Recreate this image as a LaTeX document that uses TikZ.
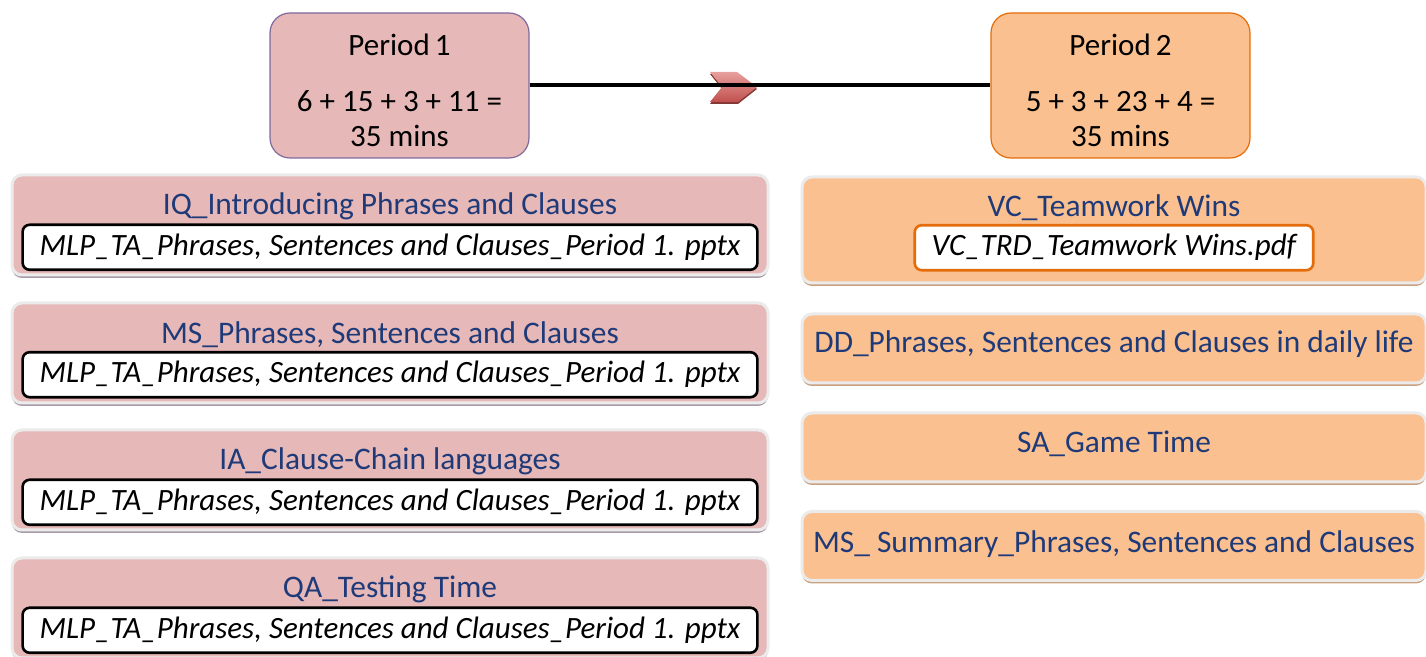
\documentclass[tikz,border=0pt]{standalone}
\usepackage{fontspec}
\setmainfont{Carlito}
\usetikzlibrary{positioning,shadows}

\definecolor{PinkFill}{HTML}{E6B8B7}
\definecolor{PeachFill}{HTML}{FAC090}
\definecolor{PurpleLine}{HTML}{7F6A9E}
\definecolor{OrangeLine}{HTML}{E46C0A}
\definecolor{TitleBlue}{HTML}{1F3A78}
\definecolor{CardEdge}{HTML}{EBEBEB}
\definecolor{PinkShadow}{HTML}{A89CA8}
\definecolor{PeachShadow}{HTML}{C9A080}
\definecolor{ChevronRed}{HTML}{C0504D}
\definecolor{ChevronLight}{HTML}{E8A09E}

\begin{document}
\begin{tikzpicture}[x=0.5pt, y=-0.5pt]
\useasboundingbox[fill=white] (0,0) rectangle (1426,657);

\coordinate (P1) at (399.5, 85.5);
\coordinate (P2) at (1120.5, 85.5);
\coordinate (Chev) at (733, 87);
\coordinate (L1) at (390, 225);
\coordinate (L2) at (390, 353);
\coordinate (L3) at (390, 480);
\coordinate (L4) at (390, 608);
\coordinate (R1) at (1114, 230);
\coordinate (R2) at (1114, 348.5);
\coordinate (R3) at (1114, 447.5);
\coordinate (R4) at (1114, 546);

\tikzset{PeriodStyle/.style = {
 shape = rectangle,
 rounded corners = 10pt,
 line width = 0.6pt,
 minimum width = 129.5pt,
 minimum height = 72.5pt} }

\tikzset{PeriodText/.style = {
 inner sep = 0pt,
 align = center,
 font = \fontsize{15.5}{17.5}\selectfont} }

\tikzset{CardStyle/.style = {
 shape = rectangle,
 rounded corners = 5pt,
 draw = CardEdge,
 line width = 1.5pt,
 drop shadow = {shadow xshift = 0pt, shadow yshift = -1.5pt,
   fill = #1, opacity = 1}} }

\tikzset{TitleText/.style = {
 text = TitleBlue,
 inner sep = 0pt,
 font = \fontsize{15.7}{18}\selectfont} }

\tikzset{FileBox/.style = {
 shape = rectangle,
 rounded corners = 3.5pt,
 fill = white,
 line width = 1.3pt,
 minimum height = 22.5pt,
 inner xsep = 8.5pt,
 font = \fontsize{15.5}{18}\selectfont\itshape} }

% the two periods
\node[PeriodStyle, fill=PinkFill, draw=PurpleLine] (Per1) at (P1) {};
\node[PeriodText] (Per1Txt) at ([yshift=-2.5pt]Per1.center)
 {\spaceskip=0.16em Period 1\\[10.5pt] 6 + 15 + 3 + 11 =\\ 35 mins};
\node[PeriodStyle, fill=PeachFill, draw=OrangeLine] (Per2) at (P2) {};
\node[PeriodText] (Per2Txt) at ([yshift=-2.5pt]Per2.center)
 {\spaceskip=0.16em Period 2\\[10.5pt] 5 + 3 + 23 + 4 =\\ 35 mins};

% chevron on the time line
\fill[ChevronRed!70!black, shift={(Chev)}]
 (-23,-13) -- (4,-13) -- (24,2) -- (5,17) -- (-23,17) -- (-11,2) -- cycle;
\shade[top color=ChevronLight, bottom color=ChevronRed, shift={(Chev)}]
 (-23,-15) -- (4,-15) -- (24,0) -- (5,15) -- (-23,15) -- (-11,0) -- cycle;
\draw[line width=2pt] (Per1.east) -- (Per2.west);

% period 1 activities
\node[CardStyle=PinkShadow, fill=PinkFill, minimum width=378pt, minimum height=50pt] (CL1) at (L1) {};
\node[TitleText] (TL1) at ([yshift=-16.5pt]CL1.north) {IQ\_Introducing Phrases and Clauses};
\node[FileBox, draw=black, below=1.5pt of TL1] (FL1) {MLP\_TA\_Phrases, Sentences and Clauses\_Period 1. pptx};

\node[CardStyle=PinkShadow, fill=PinkFill, minimum width=378pt, minimum height=50pt] (CL2) at (L2) {};
\node[TitleText] (TL2) at ([yshift=-16.5pt]CL2.north) {MS\_Phrases, Sentences and Clauses};
\node[FileBox, draw=black, below=1.5pt of TL2] (FL2) {MLP\_TA\_Phrases, Sentences and Clauses\_Period 1. pptx};

\node[CardStyle=PinkShadow, fill=PinkFill, minimum width=378pt, minimum height=50pt] (CL3) at (L3) {};
\node[TitleText] (TL3) at ([yshift=-16.5pt]CL3.north) {IA\_Clause-Chain languages};
\node[FileBox, draw=black, below=1.5pt of TL3] (FL3) {MLP\_TA\_Phrases, Sentences and Clauses\_Period 1. pptx};

\node[CardStyle=PinkShadow, fill=PinkFill, minimum width=378pt, minimum height=50pt] (CL4) at (L4) {};
\node[TitleText] (TL4) at ([yshift=-16.5pt]CL4.north) {QA\_Testing Time};
\node[FileBox, draw=black, below=1.5pt of TL4] (FL4) {MLP\_TA\_Phrases, Sentences and Clauses\_Period 1. pptx};

% period 2 activities
\node[CardStyle=PeachShadow, fill=PeachFill, minimum width=312pt, minimum height=53pt] (CR1) at (R1) {};
\node[TitleText] (TR1) at ([yshift=-16pt]CR1.north) {VC\_Teamwork Wins};
\node[FileBox, draw=OrangeLine, below=1.5pt of TR1] (FR1) {VC\_TRD\_Teamwork Wins.pdf};

\node[CardStyle=PeachShadow, fill=PeachFill, minimum width=312pt, minimum height=34.5pt] (CR2) at (R2) {};
\node[TitleText] (TR2) at ([yshift=2pt]CR2.center) {DD\_Phrases, Sentences and Clauses in daily life};

\node[CardStyle=PeachShadow, fill=PeachFill, minimum width=312pt, minimum height=34.5pt] (CR3) at (R3) {};
\node[TitleText] (TR3) at ([yshift=2pt]CR3.center) {SA\_Game Time};

\node[CardStyle=PeachShadow, fill=PeachFill, minimum width=312pt, minimum height=34.5pt] (CR4) at (R4) {};
\node[TitleText] (TR4) at ([yshift=1pt]CR4.center) {MS\_ Summary\_Phrases, Sentences and Clauses};

\end{tikzpicture}
\end{document}
